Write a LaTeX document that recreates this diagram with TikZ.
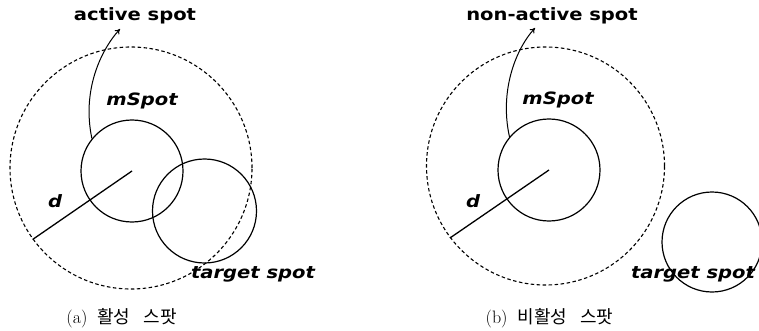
\documentclass[tikz,border=0pt]{standalone}
\usepackage{fontspec}
\newfontfamily\lblfont[FakeStretch=1.15]{DejaVu Sans}
\newfontfamily\krfont{Noto Sans CJK KR}
\usetikzlibrary{arrows.meta}
\begin{document}
\begin{tikzpicture}[x=1pt,y=-1pt,
  spot/.style={circle, draw, line width=1.2pt, inner sep=0pt, minimum size=#1},
  rangecirc/.style={circle, draw, dash pattern=on 3.5pt off 2.5pt, line width=1.1pt, inner sep=0pt, minimum size=#1},
  lab/.style={inner sep=1pt, font=\lblfont\bfseries\fontsize{17}{19}\selectfont},
  ilab/.style={inner sep=1pt, font=\lblfont\bfseries\itshape\fontsize{17}{19}\selectfont},
  captext/.style={inner sep=1pt, font=\fontsize{18}{20}\selectfont},
  radius line/.style={line width=1.3pt},
  pointer/.style={line width=1pt, -{To[length=5pt,width=6pt]}}]
\useasboundingbox[fill=white] (0,0) rectangle (759,331);
% ---------- (a) ----------
\node[rangecirc=242pt] (outA) at (131,168) {};
\node[spot=102pt] (msA) at (132,171) {};
\node[spot=104pt] (tgA) at (204.5,211) {};
\node[lab] (actA) at (135,16) {active spot};
\node[ilab] (mlA) at (142,101) {mSpot};
\node[ilab] (dA) at (55,201) {d};
\node[ilab] (tlA) at (253,274) {target spot};
\node[captext] (capA) at (121.5,318) {(a)\hspace{10pt}{\krfont 활성}\hspace{13pt}{\krfont 스팟}};
\coordinate (tipA) at (120,29);
\draw[radius line] (outA.216.5) -- (msA.center);
\draw[pointer] (msA.141) .. controls +(-10,-47) and +(-20,22) .. (tipA);
% ---------- (b) ----------
\node[rangecirc=238pt] (outB) at (545.5,166) {};
\node[spot=102pt] (msB) at (549,170) {};
\node[spot=100pt] (tgB) at (712,242) {};
\node[lab] (actB) at (552,16) {non-active spot};
\node[ilab] (mlB) at (558,100) {mSpot};
\node[ilab] (dB) at (473,201) {d};
\node[ilab] (tlB) at (693,274) {target spot};
\node[captext] (capB) at (549.5,318) {(b)\hspace{10pt}{\krfont 비활성}\hspace{13pt}{\krfont 스팟}};
\coordinate (tipB) at (535,28);
\draw[radius line] (outB.217.6) -- (msB.center);
\draw[pointer] (msB.140) .. controls +(-10,-45) and +(-20,22) .. (tipB);
\end{tikzpicture}
\end{document}
